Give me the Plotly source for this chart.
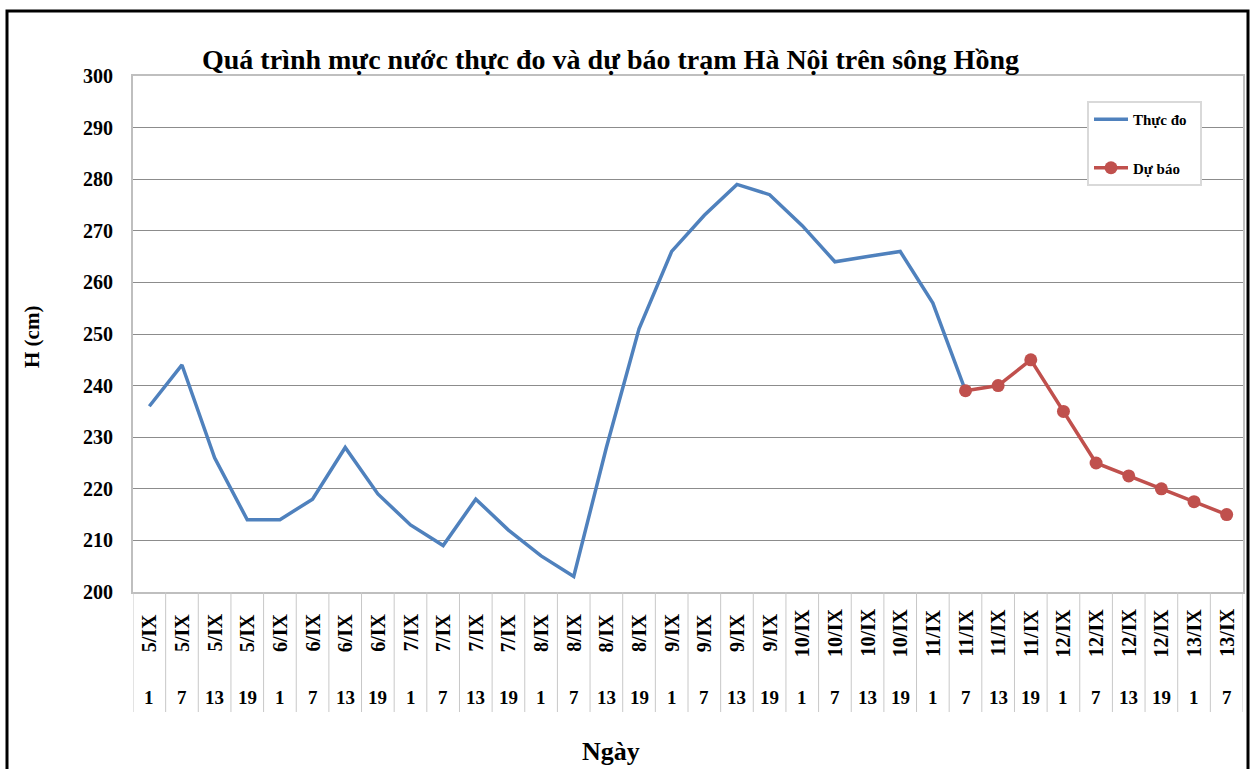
import plotly.graph_objects as go

dates = ["5/IX"] * 4 + ["6/IX"] * 4 + ["7/IX"] * 4 + ["8/IX"] * 4 + ["9/IX"] * 4 + \
        ["10/IX"] * 4 + ["11/IX"] * 4 + ["12/IX"] * 4 + ["13/IX"] * 2
hours = ["1", "7", "13", "19"] * 8 + ["1", "7"]

observed = [236, 244, 226, 214, 214, 218, 228, 219, 213, 209, 218, 212, 207, 203,
            228, 251, 266, 273, 279, 277, 271, 264, 265, 266, 256, 239]
forecast_start = 25
forecast = [239, 240, 245, 235, 225, 222.5, 220, 217.5, 215]

x_all = list(range(len(dates)))
serif = "Liberation Serif, Times New Roman, serif"

fig = go.Figure()
fig.add_trace(go.Scatter(
    x=x_all[:len(observed)], y=observed, mode="lines", name="<b>Thực đo</b>  ",
    line=dict(color="#4f81bd", width=3.5), legendgroup="a"))
fig.add_trace(go.Scatter(
    x=x_all[forecast_start:forecast_start + len(forecast)], y=forecast,
    mode="lines+markers", name="<b>Dự báo</b>",
    line=dict(color="#c0504d", width=3.5),
    marker=dict(color="#c0504d", size=13), legendgroup="b"))

W, H = 1256, 769
L, R, T, B = 133, 13, 76, 177
pw, ph = W - L - R, H - T - B

def px_y(py):
    return (H - B - py) / ph

def px_x(px):
    return (px - L) / pw

def ann(x, y, text, size, xref="paper", angle=0):
    return dict(x=x, y=y, xref=xref, yref="paper", text=text, textangle=angle,
                showarrow=False, xanchor="center", yanchor="middle",
                font=dict(family=serif, size=size, color="black"))

annotations = []
for i, (d, h) in enumerate(zip(dates, hours)):
    annotations.append(ann(i, px_y(633), f"<b>{d}</b>", 20, xref="x", angle=-90))
    annotations.append(ann(i, px_y(697), f"<b>{h}</b>", 19, xref="x"))

annotations.append(ann(px_x(32), px_y(337), "<b>H (cm)</b>", 21, angle=-90))
annotations.append(ann(px_x(611), px_y(751), "<b>Ngày</b>", 26))
annotations.append(ann(px_x(610), px_y(60),
                       "<b>Quá trình mực nước thực đo và dự báo trạm Hà Nội trên sông Hồng</b>", 28))

shapes = []
for i in range(len(dates) + 1):
    shapes.append(dict(type="line", xref="x", yref="paper", x0=i - 0.5, x1=i - 0.5,
                       y0=0, y1=px_y(712), line=dict(color="#c8c8c8", width=1)))
shapes.append(dict(type="rect", xref="paper", yref="paper",
                   x0=px_x(7), x1=px_x(1248), y0=px_y(790), y1=px_y(11),
                   line=dict(color="black", width=3)))

fig.update_layout(
    width=W, height=H,
    margin=dict(l=L, r=R, t=T, b=B),
    paper_bgcolor="white", plot_bgcolor="white",
    showlegend=True,
    legend=dict(x=px_x(1087), y=px_y(101), xanchor="left", yanchor="top",
                bordercolor="#d9d9d9", borderwidth=2, bgcolor="white",
                font=dict(family=serif, size=15, color="black"),
                tracegroupgap=26, itemwidth=34),
    xaxis=dict(range=[-0.5, len(dates) - 0.5], showticklabels=False, showgrid=False,
               zeroline=False, showline=True, linecolor="#bfbfbf", linewidth=2, mirror=True,
               ticks=""),
    yaxis=dict(range=[200, 300], dtick=10, showgrid=True, gridcolor="#8c8c8c", gridwidth=1,
               zeroline=False, showline=True, linecolor="#bfbfbf", linewidth=2, mirror=True,
               ticks="", tickfont=dict(family=serif, size=20, color="black"),
               tickprefix="<b>", ticksuffix="</b>", ticklabelstandoff=14),
    annotations=annotations,
    shapes=shapes,
)

fig.write_html("out.html", config={"displayModeBar": False},
               post_script="document.body.style.margin='0';")
